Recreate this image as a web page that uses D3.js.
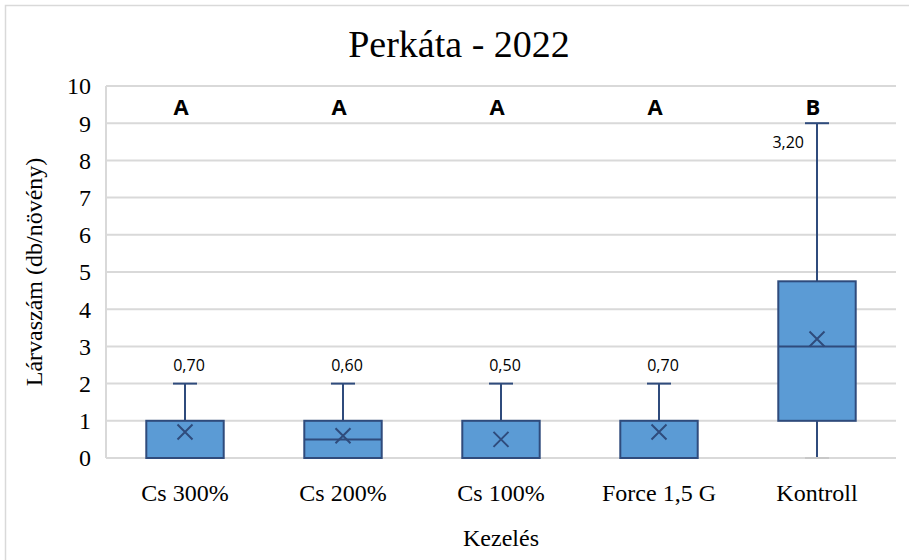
<!DOCTYPE html>
<html><head><meta charset="utf-8">
<script src="https://cdn.jsdelivr.net/npm/d3@7"></script>
<style>body{margin:0;background:#fff}</style>
</head><body>
<svg id="c" width="909" height="560"></svg>
<script>
const categories = ["Cs 300%", "Cs 200%", "Cs 100%", "Force 1,5 G", "Kontroll"];
const mins = [0, 0, 0, 0, 0];
const q1s = [0, 0, 0, 0, 1];
const medians = [0, 0.5, 0, 0, 3];
const q3s = [1, 1, 1, 1, 4.75];
const maxs = [2, 2, 2, 2, 9];
const means = [0.7, 0.6, 0.5, 0.7, 3.2];
const meanLabels = ["0,70", "0,60", "0,50", "0,70", "3,20"];
const letters = ["A", "A", "A", "A", "B"];
const yTicks = [0,1,2,3,4,5,6,7,8,9,10];

const svg = d3.select("#c");
const L = 106, R = 896, T = 86, B = 458;
const x = d3.scaleBand().domain(categories).range([L, R]);
const y = d3.scaleLinear().domain([0, 10]).range([B, T]);
const fill = "#5b9bd5", stroke = "#2f4b7c", grid = "#d9d9d9";
const serif = "'Liberation Serif', 'Times New Roman', serif";
const sans = "'Open Sans', 'Noto Sans', sans-serif";

// outer frame
svg.append("path").attr("d", `M5.5,560 V5.5 H909`).attr("fill","none").attr("stroke", grid).attr("stroke-width",1.5);

// gridlines
svg.append("g").selectAll("line").data(yTicks).join("line")
  .attr("x1", L).attr("x2", R).attr("y1", d => y(d)).attr("y2", d => y(d))
  .attr("stroke", grid).attr("stroke-width", 2);
svg.append("line").attr("x1", L).attr("x2", L).attr("y1", T).attr("y2", B).attr("stroke", grid).attr("stroke-width", 2);

// y tick labels
svg.append("g").selectAll("text").data(yTicks).join("text")
  .attr("x", 91).attr("y", d => y(d)).attr("dy", "0.35em").attr("text-anchor", "end")
  .attr("font-family", serif).attr("font-size", 24).attr("fill", "#000")
  .text(d => d);

// x tick labels
svg.append("g").selectAll("text").data(categories).join("text")
  .attr("x", d => x(d) + x.bandwidth()/2).attr("y", 501).attr("text-anchor", "middle")
  .attr("font-family", serif).attr("font-size", 24).attr("fill", "#000")
  .text(d => d);

const bw = x.bandwidth() * 0.49;
const capW = 24;
const g = svg.append("g");
categories.forEach((c, i) => {
  const cx = x(c) + x.bandwidth()/2;
  // upper whisker
  g.append("line").attr("x1", cx).attr("x2", cx).attr("y1", y(q3s[i])).attr("y2", y(maxs[i])).attr("stroke", stroke).attr("stroke-width", 2);
  g.append("line").attr("x1", cx - capW/2).attr("x2", cx + capW/2).attr("y1", y(maxs[i])).attr("y2", y(maxs[i])).attr("stroke", stroke).attr("stroke-width", 2);
  // lower whisker
  if (q1s[i] > mins[i]) {
    g.append("line").attr("x1", cx).attr("x2", cx).attr("y1", y(q1s[i])).attr("y2", y(mins[i])).attr("stroke", stroke).attr("stroke-width", 2);
    g.append("line").attr("x1", cx - capW/2).attr("x2", cx + capW/2).attr("y1", y(mins[i])).attr("y2", y(mins[i])).attr("stroke", "#c8c8c8").attr("stroke-width", 2);
  }
  // box
  g.append("rect").attr("x", cx - bw/2).attr("y", y(q3s[i])).attr("width", bw).attr("height", y(q1s[i]) - y(q3s[i]))
    .attr("fill", fill).attr("stroke", stroke).attr("stroke-width", 2);
  // median
  if (medians[i] > q1s[i] && medians[i] < q3s[i]) {
    g.append("line").attr("x1", cx - bw/2).attr("x2", cx + bw/2).attr("y1", y(medians[i])).attr("y2", y(medians[i])).attr("stroke", stroke).attr("stroke-width", 2);
  }
  // mean marker X
  const my = y(means[i]), s = 7.5;
  g.append("path").attr("d", `M${cx-s},${my-s}L${cx+s},${my+s}M${cx-s},${my+s}L${cx+s},${my-s}`)
    .attr("stroke", stroke).attr("stroke-width", 2).attr("fill", "none");
  // mean label
  const isTop = i === 4;
  g.append("text")
    .attr("x", isTop ? cx - 13 : cx + 4).attr("y", isTop ? y(maxs[i]) + 25 : y(maxs[i]) - 13)
    .attr("text-anchor", isTop ? "end" : "middle")
    .attr("font-family", sans).attr("font-size", 16).attr("fill", "#000")
    .text(meanLabels[i]);
  // letter
  g.append("text").attr("x", cx - 4).attr("y", 115).attr("text-anchor", "middle")
    .attr("font-family", sans).attr("font-weight", "bold").attr("font-size", 22).attr("fill", "#000")
    .text(letters[i]);
});

// title
svg.append("text").attr("x", 459).attr("y", 57).attr("text-anchor", "middle")
  .attr("font-family", serif).attr("font-size", 38).attr("fill", "#000").text("Perkáta - 2022");
// axis titles
svg.append("text").attr("x", 501).attr("y", 546).attr("text-anchor", "middle")
  .attr("font-family", serif).attr("font-size", 24).attr("fill", "#000").text("Kezelés");
svg.append("text").attr("transform", "translate(42,272) rotate(-90)").attr("text-anchor", "middle")
  .attr("font-family", serif).attr("font-size", 24).attr("fill", "#000").text("Lárvaszám (db/növény)");
</script>
</body></html>
